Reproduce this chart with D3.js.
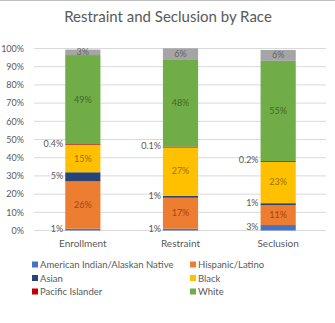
<!DOCTYPE html>
<html><head><meta charset="utf-8">
<script src="https://cdn.jsdelivr.net/npm/d3@7"></script>
<style>body{margin:0;background:#fff}svg{display:block}</style>
</head><body>
<script>
const categories = ["Enrollment", "Restraint", "Seclusion"];
const seriesNames = ["American Indian/Alaskan Native", "Hispanic/Latino", "Asian", "Black", "Pacific Islander", "White", "Two or More Races"];
const seriesColors = ["#4472C4", "#ED7D31", "#264478", "#FFC000", "#C00000", "#70AD47", "#A5A5A5"];
const labelColors = ["#404040", "#9E480E", "#404040", "#997300", "#404040", "#43682B", "#636363"];
const amIndian = [1, 1, 3];
const hispanic = [26, 17, 11];
const asian = [5, 1, 1];
const black = [15, 27, 23];
const pacific = [0.4, 0.1, 0.2];
const white = [49, 48, 55];
const multi = [3, 6, 6];
const yTicks = [0, 10, 20, 30, 40, 50, 60, 70, 80, 90, 100];
const outsideLabel = [true, false, true, false, true, false, false];
const legendItems = [0, 1, 2, 3, 4, 5];

const values = [amIndian, hispanic, asian, black, pacific, white, multi];
const W = 335, H = 323;
const svg = d3.select("body").append("svg").attr("width", W).attr("height", H);
const font = "Lato, 'Open Sans', sans-serif";
const txt = "#595959";

svg.append("line").attr("x1",0).attr("x2",W).attr("y1",0.5).attr("y2",0.5).attr("stroke","#bfbfbf");

svg.append("text").attr("x", 168).attr("y", 21.5).attr("text-anchor","middle")
  .attr("font-family", font).attr("font-size", 15).attr("fill", txt)
  .text("Restraint and Seclusion by Race");

const x = d3.scaleBand().domain(categories).range([34, 327]).paddingInner(0.64).paddingOuter(0.32);
const y = d3.scaleLinear().domain([0, 100]).range([230.5, 48.5]);

const grid = svg.append("g");
yTicks.forEach(t => {
  grid.append("line").attr("x1", 34).attr("x2", 326).attr("y1", y(t)).attr("y2", y(t))
    .attr("stroke", "#d9d9d9").attr("stroke-width", 1);
});
const yAxis = d3.axisLeft(y).tickValues(yTicks).tickFormat(d => d + "%").tickSize(0).tickPadding(0);
const ya = svg.append("g").attr("transform", "translate(24,0)").call(yAxis);
ya.select(".domain").remove();
ya.selectAll("text").attr("font-family", font).attr("font-size", 9).attr("fill", txt);

const xAxis = d3.axisBottom(x).tickSize(0).tickPadding(0);
const xa = svg.append("g").attr("transform", "translate(0,240)").call(xAxis);
xa.select(".domain").remove();
xa.selectAll("text").attr("font-family", font).attr("font-size", 10).attr("fill", txt);

const table = categories.map((c, i) => {
  const o = {cat: c};
  seriesNames.forEach((s, j) => o[s] = values[j][i]);
  return o;
});
const stack = d3.stack().keys(seriesNames)(table);

stack.forEach((layer, j) => {
  const g = svg.append("g");
  layer.forEach(d => {
    const cat = d.data.cat;
    g.append("rect").attr("x", x(cat)).attr("width", x.bandwidth())
      .attr("y", y(d[1])).attr("height", Math.max(0.8, y(d[0]) - y(d[1])))
      .attr("fill", seriesColors[j]);
    const v = d[1] - d[0];
    const lbl = (v < 1 ? v.toFixed(1) : Math.round(v)) + "%";
    if (outsideLabel[j]) {
      g.append("text").attr("x", x(cat) - 2).attr("y", (y(d[0]) + y(d[1])) / 2 + 2)
        .attr("text-anchor", "end").attr("font-family", font).attr("font-size", 9)
        .attr("fill", txt).text(lbl);
    } else {
      g.append("text").attr("x", x(cat) + x.bandwidth() / 2).attr("y", (y(d[0]) + y(d[1])) / 2 + 3)
        .attr("text-anchor", "middle").attr("font-family", font).attr("font-size", 9)
        .attr("fill", labelColors[j]).text(lbl);
    }
  });
});

const leg = svg.append("g");
legendItems.forEach((j, k) => {
  const col = k % 2, row = Math.floor(k / 2);
  const lx = col === 0 ? 32 : 190, ly = 268 + row * 13.5;
  leg.append("rect").attr("x", lx).attr("y", ly - 6.5).attr("width", 6).attr("height", 6).attr("fill", seriesColors[j]);
  leg.append("text").attr("x", lx + 8).attr("y", ly).attr("font-family", font).attr("font-size", 9.5)
    .attr("fill", txt).text(seriesNames[j]);
});
</script>
</body></html>
